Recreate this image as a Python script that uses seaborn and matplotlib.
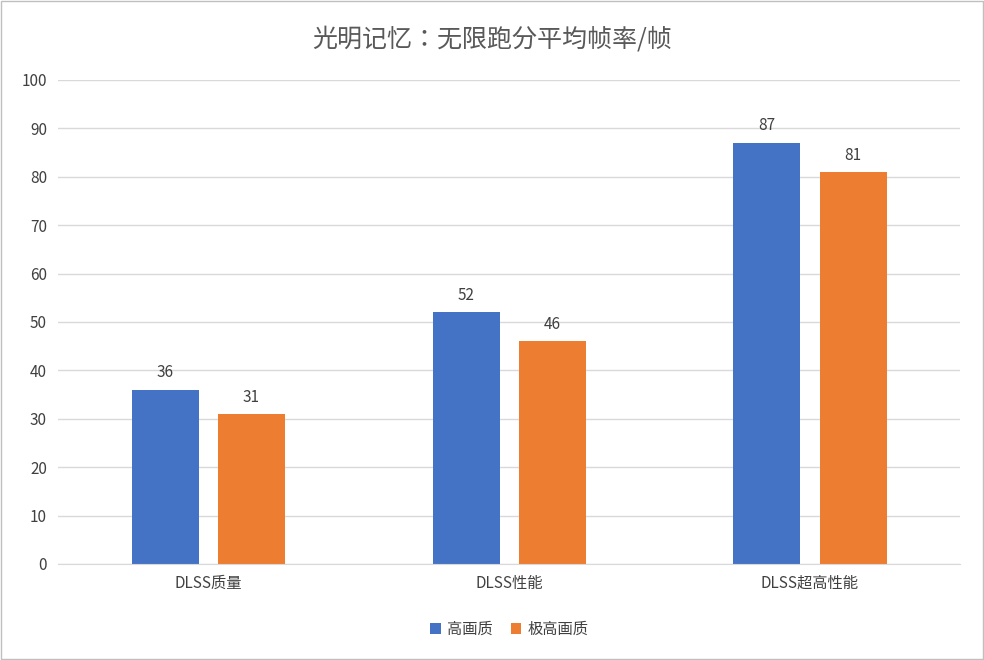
import matplotlib
matplotlib.use("Agg")
import matplotlib.pyplot as plt
from matplotlib import font_manager
import seaborn as sns
import pandas as pd

categories = ["DLSS质量", "DLSS性能", "DLSS超高性能"]
series_names = ["高画质", "极高画质"]
high = [36, 52, 87]
ultra = [31, 46, 81]
yticks = [0, 10, 20, 30, 40, 50, 60, 70, 80, 90, 100]

avail = {f.name for f in font_manager.fontManager.ttflist}
cjk = [n for n in ["Noto Sans CJK SC", "Noto Sans CJK JP", "Noto Sans CJK TC", "Noto Sans CJK KR"] if n in avail]
if not cjk:
    cjk = [f.name for f in font_manager.fontManager.ttflist if "CJK" in f.name][:1]
plt.rcParams["font.family"] = "sans-serif"
plt.rcParams["font.sans-serif"] = cjk + ["DejaVu Sans"]

df = pd.DataFrame({
    "cat": categories * 2,
    "series": [series_names[0]] * 3 + [series_names[1]] * 3,
    "val": high + ultra,
})

fig = plt.figure(figsize=(9.84, 6.60), dpi=100)
ax = fig.add_axes([0.059, 0.1455, 0.917, 0.7335])
sns.barplot(data=df, x="cat", y="val", hue="series", palette=["#4472C4", "#ED7D31"],
            width=0.573, saturation=1, ax=ax, legend=True)
for p in ax.patches:
    if p.get_height() == 0:
        continue
    c = p.get_x() + p.get_width() / 2
    p.set_width(0.223)
    p.set_x(c - 0.1115)
for cont in ax.containers:
    ax.bar_label(cont, padding=6, fontsize=11, color="#404040")
ax.set_xlim(-0.5, 2.5)
ax.set_ylim(0, 100)
ax.set_yticks(yticks)
ax.grid(axis="y", color="#D9D9D9", linewidth=1)
ax.set_axisbelow(True)
for s in ["top", "right", "left"]:
    ax.spines[s].set_visible(False)
ax.spines["bottom"].set_color("#D9D9D9")
ax.tick_params(length=0, labelsize=11, colors="#404040", pad=8)
ax.set_xlabel("")
ax.set_ylabel("")
fig.text(0.5, 0.94, "光明记忆：无限跑分平均帧率/帧", ha="center", va="center", fontsize=18, color="#595959")
ax.legend(loc="center", bbox_to_anchor=(0.5, -0.135), ncol=2, frameon=False, fontsize=11,
          handlelength=0.7, handleheight=0.7, columnspacing=1.2, handletextpad=0.4,
          labelcolor="#404040")
fig.patches.append(plt.Rectangle((0.001, 0.001), 0.998, 0.998, transform=fig.transFigure,
                                 fill=False, edgecolor="#BFBFBF", linewidth=1))
fig.savefig("out.png", dpi=100)
